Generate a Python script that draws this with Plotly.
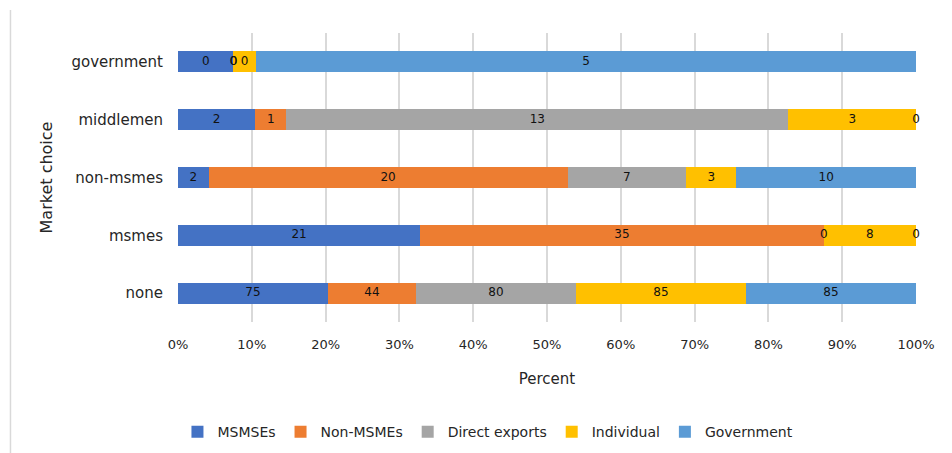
import plotly.graph_objects as go

categories = ["none", "msmes", "non-msmes", "middlemen", "government"]
series_names = ["MSMSEs", "Non-MSMEs", "Direct exports", "Individual", "Government"]
msmses = [75, 21, 1.7, 2, 0.42]
non_msmes = [44, 35, 20, 0.8, 0]
direct_exports = [80, 0, 6.6, 13, 0]
individual = [85, 8, 2.8, 3.3, 0.17]
government = [85, 0, 10, 0, 5]
colors = ["#4472C4", "#ED7D31", "#A5A5A5", "#FFC000", "#5B9BD5"]
x_ticks = [0, 10, 20, 30, 40, 50, 60, 70, 80, 90, 100]

series = [msmses, non_msmes, direct_exports, individual, government]
FONT = "'DejaVu Sans', sans-serif"

fig = go.Figure()
for name, vals, col in zip(series_names, series, colors):
    fig.add_trace(go.Bar(
        y=categories, x=vals, name=name, orientation="h",
        marker=dict(color=col, line=dict(width=0)),
        hoverinfo="x+name",
    ))

# data labels at segment centres (computed from the data, shown as rounded values)
totals = [sum(s[i] for s in series) for i in range(len(categories))]
cum = [0.0] * len(categories)
lab_x, lab_y, lab_t = [], [], []
for vals in series:
    for i, v in enumerate(vals):
        pct = 100.0 * v / totals[i]
        lab_x.append(cum[i] + pct / 2)
        lab_y.append(categories[i])
        lab_t.append(f"{v:.0f}")
        cum[i] += pct
fig.add_trace(go.Scatter(
    x=lab_x, y=lab_y, text=lab_t, mode="text", showlegend=False,
    textfont=dict(color="#111111", size=12, family=FONT), hoverinfo="skip",
    cliponaxis=False,
))

fig.update_layout(
    width=952, height=453,
    barmode="stack", barnorm="percent", bargap=0.636,
    margin=dict(l=178, r=36, t=33, b=131, autoexpand=False),
    plot_bgcolor="white", paper_bgcolor="white",
    font=dict(family=FONT, size=13, color="#262626"),
    legend=dict(orientation="h", x=0.42, xanchor="center",
                yref="container", y=0.046, yanchor="middle",
                font=dict(size=14, color="#262626"), traceorder="normal",
                itemwidth=30),
    xaxis=dict(range=[0, 100], tickvals=x_ticks, ticktext=[f"{t}%" for t in x_ticks],
               showgrid=True, gridcolor="#D9D9D9", gridwidth=1.5, zeroline=False,
               showline=False, ticks="", tickfont=dict(size=13), ticklabelstandoff=13,
               title=dict(text="Percent", font=dict(size=15), standoff=22)),
    yaxis=dict(showgrid=False, showline=False, ticks="", ticklabelstandoff=14,
               tickfont=dict(size=15),
               title=dict(text="Market choice", font=dict(size=16), standoff=14)),
    shapes=[dict(type="line", xref="paper", yref="paper", x0=-0.227, x1=-0.227,
                 y0=-0.6, y1=1.08, line=dict(color="#D9D9D9", width=1.5))],
)
fig.write_html("out.html")
